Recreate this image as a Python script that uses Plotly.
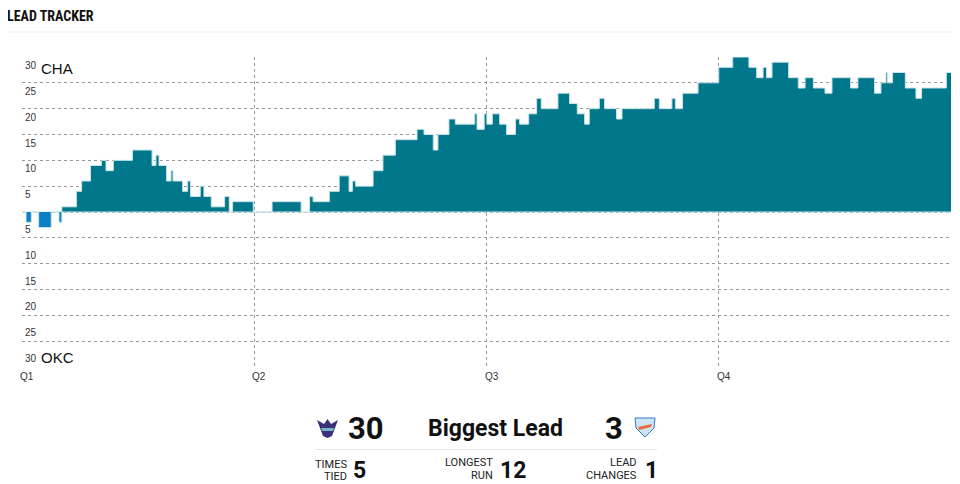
import plotly.graph_objects as go

# ---- data: game minute at which each lead value starts (CHA positive, OKC negative)
start_min = [0.0, 0.21, 0.48, 0.86, 1.51, 1.91, 2.06, 2.81, 3.08, 3.54,
             4.10, 4.34, 4.72, 5.71, 6.72, 6.92, 7.08, 7.47, 7.70, 7.80,
             8.30, 8.56, 8.71, 9.21, 9.40, 9.78, 10.47, 10.71, 10.88, 11.95,
             12.92, 14.42, 14.86, 15.04, 15.88, 16.39, 16.90, 17.07, 17.24, 18.14,
             18.65, 19.29, 20.41, 20.77, 21.25, 21.49, 22.06, 22.39, 23.39, 23.51,
             23.88, 24.02, 24.30, 24.68, 25.04, 25.50, 25.71, 26.18, 26.59, 26.83,
             27.69, 28.29, 28.69, 29.07, 29.31, 29.83, 30.10, 30.72, 31.00, 32.67,
             32.93, 33.58, 33.76, 34.13, 34.93, 36.00, 36.72, 37.56, 37.96, 38.29,
             38.47, 38.75, 39.61, 40.11, 40.46, 40.89, 41.49, 41.85, 42.81, 43.19,
             44.05, 44.38, 44.64, 44.71, 44.98, 45.64, 46.19, 46.48, 47.76]
lead = [0, -2, 0, -3, 0, -2, 1, 4, 6, 9,
        10, 8, 10, 12, 9, 11, 9, 6, 8, 6,
        4, 6, 3, 5, 3, 1, 3, 0, 2, 0,
        2, 0, 3, 2, 4, 7, 4, 6, 5, 8,
        11, 14, 16, 15, 12, 15, 18, 17, 19, 16,
        19, 17, 19, 17, 15, 18, 17, 19, 22, 20,
        23, 21, 19, 17, 20, 22, 20, 18, 20, 22,
        20, 22, 20, 23, 25, 28, 30, 28, 26, 28,
        26, 29, 26, 24, 26, 24, 23, 26, 24, 26,
        23, 25, 27, 25, 27, 24, 22, 24, 27]
game_end = 48
quarter_starts = [0, 12, 24, 36]
quarter_labels = ["Q1", "Q2", "Q3", "Q4"]
y_ticks = [5, 10, 15, 20, 25, 30]
home_team, away_team = "CHA", "OKC"
biggest_lead_home, biggest_lead_away = 30, 3
times_tied, longest_run, lead_changes = 5, 12, 1

assert len(start_min) == len(lead)

# ---- layout geometry (pixels). The page body adds an 8px margin, so the
# figure is drawn 8px left/up of the target window coordinates.
OFF = 8
W, H = 960, 484
PW, PH = 929, 310
ML, MT = 22 - OFF, 57 - OFF
MR, MB = W - ML - PW, H - MT - PH


def px(x):  # window pixel -> paper x
    return (x - OFF - ML) / PW


def py(y):  # window pixel -> paper y
    return (H - MB - (y - OFF)) / PH


TEAL = "#00778a"
BLUE = "#0a7fc6"
EDGE = "#c8e4ea"

xs = start_min + [game_end]
ys = lead + [lead[-1]]
pos = [max(0, v) for v in ys]
neg = [min(0, v) for v in ys]

fig = go.Figure()
fig.add_trace(go.Scatter(x=xs, y=pos, mode="lines", line=dict(shape="hv", color=EDGE, width=1),
                         fill="tozeroy", fillcolor=TEAL, hoverinfo="skip", showlegend=False))
fig.add_trace(go.Scatter(x=xs, y=neg, mode="lines", line=dict(shape="hv", color=EDGE, width=1),
                         fill="tozeroy", fillcolor=BLUE, hoverinfo="skip", showlegend=False))

ann = []
tick_font = dict(family="Liberation Sans, Arial, sans-serif", size=10, color="#333")
for v in y_ticks:
    ann.append(dict(xref="paper", yref="y", x=0, y=v, xanchor="left", yanchor="top",
                    xshift=1, yshift=-1, text=str(v), showarrow=False, font=tick_font))
    ann.append(dict(xref="paper", yref="y", x=0, y=-v, xanchor="left", yanchor="bottom",
                    xshift=1, yshift=1, text=str(v), showarrow=False, font=tick_font))
team_font = dict(family="Liberation Sans, Arial, sans-serif", size=15, color="#111")
ann.append(dict(xref="paper", yref="y", x=0, y=30, xanchor="left", yanchor="top",
                xshift=17, yshift=-1, text=home_team, showarrow=False, font=team_font))
ann.append(dict(xref="paper", yref="y", x=0, y=-30, xanchor="left", yanchor="bottom",
                xshift=17, yshift=-1, text=away_team, showarrow=False, font=team_font))
for q, lab in zip(quarter_starts, quarter_labels):
    ann.append(dict(xref="x", yref="paper", x=q, y=0, xanchor="left", yanchor="top",
                    xshift=-4, yshift=-2, text=lab, showarrow=False, font=tick_font))

# title
ann.append(dict(xref="paper", yref="paper", x=px(5), y=py(16), xanchor="left", yanchor="middle",
                text="<b>LEAD TRACKER</b>", showarrow=False,
                font=dict(family="Liberation Sans Narrow, Roboto Condensed, DejaVu Sans Condensed, sans-serif",
                          size=14, color="#111")))

# stats
big = dict(family="Roboto, sans-serif", size=31, color="#111")
ann.append(dict(xref="paper", yref="paper", x=px(366), y=py(428), xanchor="center", yanchor="middle",
                text=f"<b>{biggest_lead_home}</b>", showarrow=False, font=big, borderpad=0))
ann.append(dict(xref="paper", yref="paper", x=px(495), y=py(428), xanchor="center", yanchor="middle",
                text="<b>Biggest Lead</b>", showarrow=False, borderpad=0,
                font=dict(family="Roboto, sans-serif", size=23, color="#111")))
ann.append(dict(xref="paper", yref="paper", x=px(614), y=py(428), xanchor="center", yanchor="middle",
                text=f"<b>{biggest_lead_away}</b>", showarrow=False, font=big, borderpad=0))

small = dict(family="Roboto, sans-serif", size=11, color="#222")
num = dict(family="Roboto, sans-serif", size=23, color="#111")
stats = [(("TIMES", "TIED"), 348, (464, 476.5), times_tied, 359),
         (("LONGEST", "RUN"), 494, (463, 475.5), longest_run, 513),
         (("LEAD", "CHANGES"), 638, (463, 475.5), lead_changes, 651)]
for (l1, l2), rx, (y1, y2), val, cx in stats:
    ann.append(dict(xref="paper", yref="paper", x=px(rx), y=py(y1), xanchor="right", yanchor="middle",
                    text=l1, showarrow=False, font=small, borderpad=0))
    ann.append(dict(xref="paper", yref="paper", x=px(rx), y=py(y2), xanchor="right", yanchor="middle",
                    text=l2, showarrow=False, font=small, borderpad=0))
    ann.append(dict(xref="paper", yref="paper", x=px(cx), y=py(470.5), xanchor="center", yanchor="middle",
                    text=f"<b>{val}</b>", showarrow=False, font=num, borderpad=0))

shapes = []
# title underline
shapes.append(dict(type="line", xref="paper", yref="paper", x0=px(7), x1=px(960), y0=py(32), y1=py(32),
                   line=dict(color="#eeeeee", width=1)))
# stats separator
shapes.append(dict(type="line", xref="paper", yref="paper", x0=px(315), x1=px(657), y0=py(449.5), y1=py(449.5),
                   line=dict(color="#e6e6e6", width=1)))


def path(points):
    return "M " + " L ".join(f"{px(a)},{py(b)}" for a, b in points) + " Z"


# simplified team logos
shapes.append(dict(type="path", xref="paper", yref="paper",
                   path=path([(317, 420), (324, 424), (327.5, 419), (331, 424), (338, 420), (335, 428),
                              (332, 436), (327.5, 438), (323, 436), (320, 428)]),
                   fillcolor="#3b2f7a", line=dict(color="#3b2f7a", width=0)))
shapes.append(dict(type="path", xref="paper", yref="paper",
                   path=path([(321, 428), (334, 428), (333, 431), (322, 431)]),
                   fillcolor="#6fb7c9", line=dict(width=0)))
shapes.append(dict(type="path", xref="paper", yref="paper",
                   path=path([(635, 418), (655, 418), (654, 428), (645, 437), (636, 428)]),
                   fillcolor="#cfe4f3", line=dict(color="#2b7cc0", width=1)))
shapes.append(dict(type="path", xref="paper", yref="paper",
                   path=path([(638, 427), (652, 424), (651, 427), (639, 430)]),
                   fillcolor="#ef6a3a", line=dict(width=0)))

fig.update_layout(
    width=W, height=H,
    margin=dict(l=ML, r=MR, t=MT, b=MB, pad=0),
    paper_bgcolor="white", plot_bgcolor="white",
    xaxis=dict(range=[0, game_end], tickvals=[12, 24, 36, 48], showticklabels=False, ticks="",
               showgrid=True, gridcolor="#9a9a9a", griddash="dot", gridwidth=1,
               zeroline=False, showline=False, fixedrange=True),
    yaxis=dict(range=[-30, 30], tickvals=list(range(-30, 31, 5)), showticklabels=False, ticks="",
               showgrid=True, gridcolor="#9a9a9a", griddash="dot", gridwidth=1,
               zeroline=False, showline=False, fixedrange=True),
    annotations=ann, shapes=shapes, showlegend=False,
)

fig.write_html("out.html")
